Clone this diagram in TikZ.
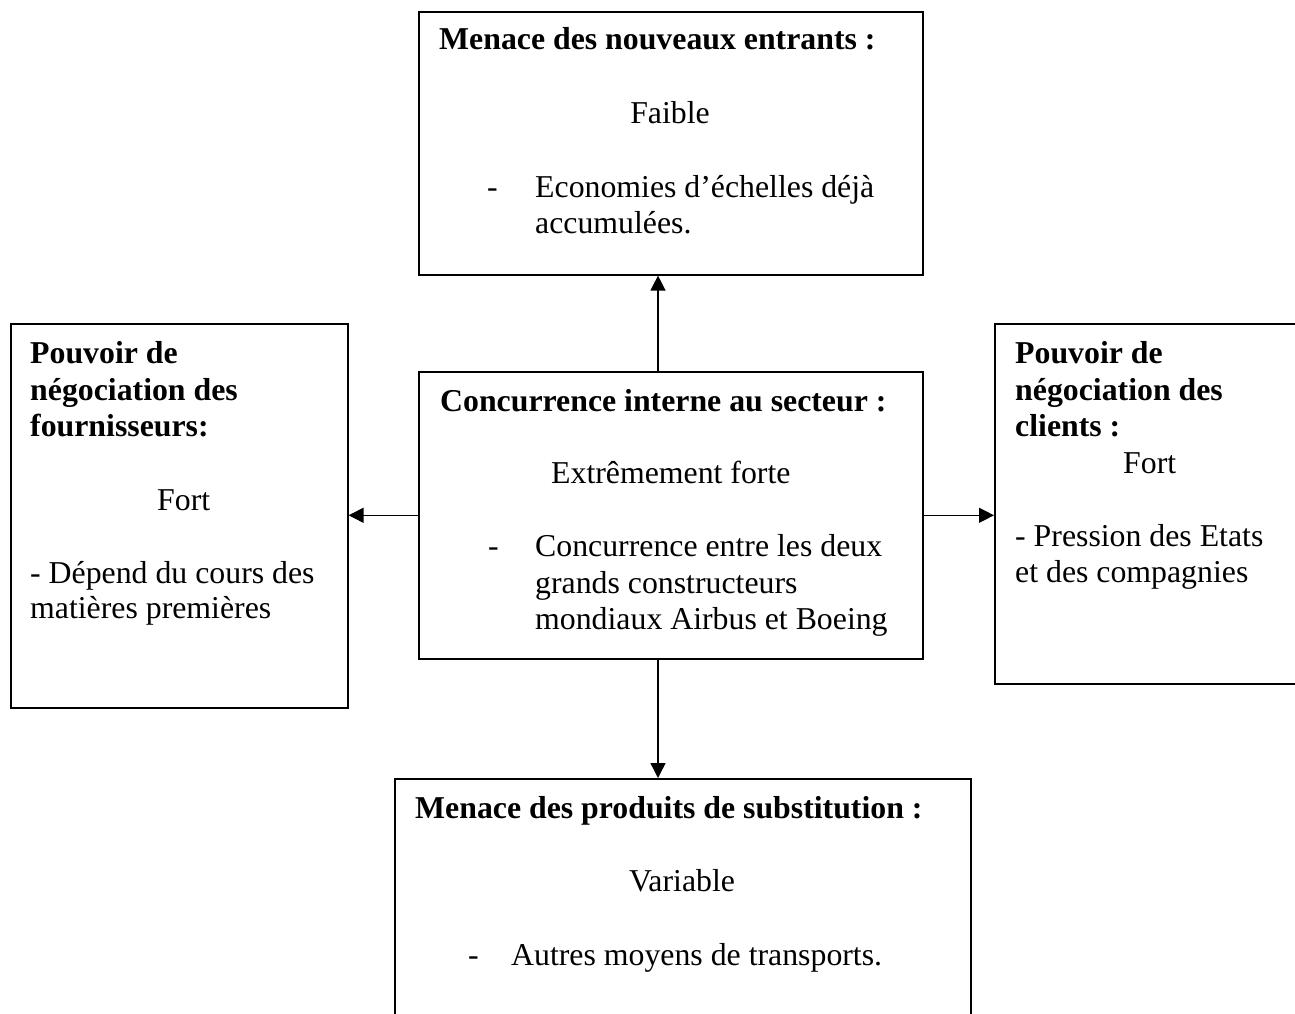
\documentclass[tikz,border=0pt]{standalone}
\usepackage{fontspec}
\setmainfont{Liberation Serif}
\usetikzlibrary{arrows.meta}
\begin{document}
\begin{tikzpicture}[x=1pt,y=-1pt,
  box/.style={draw, line width=1.6pt, inner sep=0pt, anchor=north west},
  txt/.style={inner sep=0pt, anchor=base west, font=\fontsize{31.8}{36.5}\selectfont},
  hd/.style={txt, font=\fontsize{31.8}{36.5}\selectfont\bfseries},
  arr/.style={line width=1.4pt, -{Triangle[length=15pt,width=15pt]}}]
\useasboundingbox (0,0) rectangle (1295,1014);
% boxes
\node[box, minimum width=504pt, minimum height=263pt] (top) at (418,11) {};
\node[box, minimum width=337pt, minimum height=384pt] (left) at (10,323) {};
\node[box, minimum width=504pt, minimum height=287pt] (center) at (418,371) {};
\node[box, minimum width=320pt, minimum height=360pt] (right) at (994,323) {};
\node[box, minimum width=576pt, minimum height=260pt] (bottom) at (394,778) {};
\coordinate (ax) at (658,0);
% arrows
\draw[arr] (center.north -| ax) -- (top.south -| ax);
\draw[arr] (center.south -| ax) -- (bottom.north -| ax);
\draw[arr] (center.west) -- (center.west -| left.east);
\draw[arr] (center.east) -- (center.east -| right.west);
% top box text
\node[hd] (t1) at (439,50) {Menace des nouveaux entrants :};
\node[txt, anchor=base] (t2) at (670,124) {Faible};
\node[txt] (t3) at (487,197) {-};
\node[txt] (t4) at (535,197) {Economies d’échelles déjà};
\node[txt] (t5) at (535,233) {accumulées.};
% left box text
\node[hd] (l1) at (30,363) {Pouvoir de};
\node[hd] (l2) at (30,400) {négociation des};
\node[hd] (l3) at (30,436) {fournisseurs:};
\node[txt] (l4) at (157,510) {Fort};
\node[txt] (l5) at (30,583) {- Dépend du cours des};
\node[txt] (l6) at (30,618) {matières premières};
% right box text
\node[hd] (r1) at (1015,363) {Pouvoir de};
\node[hd] (r2) at (1015,400) {négociation des};
\node[hd] (r3) at (1015,436) {clients :};
\node[txt] (r4) at (1123,473) {Fort};
\node[txt] (r5) at (1015,546) {- Pression des Etats};
\node[txt] (r6) at (1015,582) {et des compagnies};
% center box text
\node[hd] (c1) at (440,411) {Concurrence interne au secteur :};
\node[txt] (c2) at (551,483) {Extrêmement forte};
\node[txt] (c3) at (488,556) {-};
\node[txt] (c4) at (535,556) {Concurrence entre les deux};
\node[txt] (c5) at (535,593) {grands constructeurs};
\node[txt] (c6) at (535,629) {mondiaux Airbus et Boeing};
% bottom box text
\node[hd] (b1) at (415,818) {Menace des produits de substitution :};
\node[txt, anchor=base] (b2) at (682,891) {Variable};
\node[txt] (b3) at (468,965) {-};
\node[txt] (b4) at (511,965) {Autres moyens de transports.};
\end{tikzpicture}
\end{document}
